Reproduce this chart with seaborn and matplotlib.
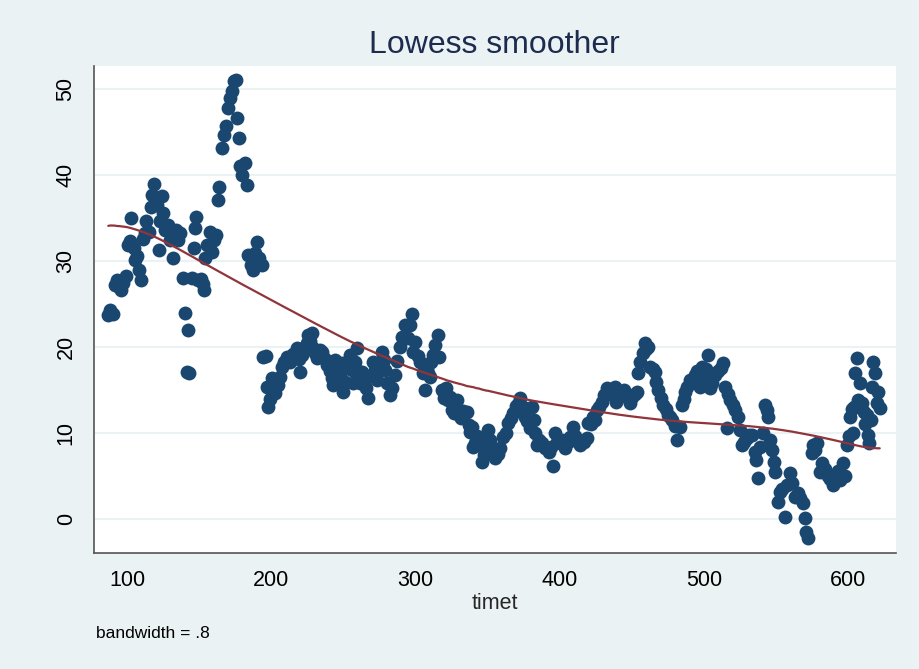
import numpy as np
import pandas as pd
import matplotlib
matplotlib.use("Agg")
import matplotlib.pyplot as plt
import seaborn as sns

# ---- data ----
timet = [
    87, 88.5, 90, 91.5, 93, 94.5, 96, 97.5, 99, 100.5, 102, 103, 104.5, 105.5, 107, 108.5, 110, 111,
    112.5, 113.5, 115, 116.5, 117.5, 118.7, 120, 121, 122.2, 123, 124.3, 125.2, 126.5, 128.4, 129.8,
    131.9, 134, 135.4, 136.8, 138.8, 140.2, 141.6, 142.3, 143.1, 145, 146.5, 147.2, 147.9, 149.2,
    151.3, 152.5, 153.4, 154, 155.5, 157.6, 158.9, 160.3, 161.7, 163.1, 163.8, 165.9, 167.3, 168.7,
    170, 171.4, 172.8, 174.2, 175.6, 176.3, 177.7, 178.4, 179.8, 181.8, 183.2, 184, 186, 187.4, 188.8,
    190.2, 191.5, 193.6, 194.3, 196.5, 197, 197.8, 199.5, 200.6, 202.6, 204.7, 206, 207.5, 209, 211,
    213, 215, 217.9, 219, 220, 221.5, 223.5, 224.8, 225.5, 227, 228.3, 229, 230.4, 231.8, 233.5,
    235.2, 237, 238.7, 240.5, 242.2, 242.9, 244.2, 246, 247.5, 249.1, 249.8, 251.5, 253, 254.6, 256,
    256.7, 258, 259.5, 260.5, 261.6, 263, 264.5, 266, 267.1, 268.5, 270.6, 272, 273.4, 275, 276.8,
    278, 278.9, 280.5, 282.4, 284, 285.9, 287.5, 289.3, 291, 292.8, 294.9, 296.2, 297.6, 298.3, 300,
    301.5, 303.2, 305, 306.7, 308, 308.7, 310, 311, 312.2, 313.6, 315.7, 316.5, 318.4, 319.5, 321,
    322.5, 324, 325.5, 327, 328.8, 330, 331.5, 333, 335.8, 337, 338, 339, 340, 341, 342.5, 344, 346,
    347.5, 349, 350, 351.5, 353, 355, 357, 358.7, 360.7, 362.5, 364.5, 366, 367.7, 369.5, 371, 372.5,
    374.6, 376, 377.5, 379.5, 381, 382, 383, 384.3, 386, 388, 390, 392.5, 394, 395.4, 396.8, 398.5,
    400.5, 402, 403.7, 405.5, 407, 409.3, 411, 412.5, 414, 415.5, 417, 419, 419.7, 421.5, 423, 424.5,
    426, 427.5, 429.4, 431, 432.9, 434.5, 436.5, 438.4, 439, 441, 443.3, 445, 447, 448.8, 450.5, 452,
    453.7, 454.4, 456, 457.8, 459.2, 460, 461.3, 462.5, 464.5, 466, 467, 468.5, 470, 471.7, 473.5,
    475, 476.5, 478, 480, 481.4, 483.5, 484.9, 486, 487, 488.5, 490.4, 492, 493.9, 495.5, 497.4,
    498.7, 500, 501.5, 502.9, 504.3, 506, 508, 510, 512, 513.6, 515, 516.1, 517, 518.5, 520, 521.9,
    523.5, 525, 526.5, 528, 530, 531.5, 533.4, 535.5, 536.2, 537.6, 539, 541, 542.4, 543.5, 544.5,
    546, 547.3, 548.5, 549.4, 551.5, 552.8, 554.5, 556.3, 558, 559.8, 561.5, 563.2, 565, 567, 568.8,
    570.2, 571.2, 572, 575, 575.7, 577, 578.5, 580.6, 582, 584, 586, 587.8, 589.6, 591.5, 593, 594.5,
    596.5, 598, 599.3, 600.5, 601.4, 602.5, 603.5, 604, 604.9, 606.2, 606.9, 608.3, 609.5, 611, 612,
    613.2, 614, 614.8, 616, 616.6, 617.3, 618.7, 620, 621, 622,
]
value = [
    23.7, 24.3, 23.8, 27.2, 27.8, 27.0, 26.6, 27.4, 28.2, 31.9, 32.3, 35.0, 31.5, 30.1, 30.6, 29.0, 27.8, 32.5,
    33.2, 34.6, 33.4, 36.3, 37.7, 39.0, 37.4, 36.5, 31.3, 34.6, 37.6, 35.6, 33.6, 34.2, 32.4,
    30.3, 33.6, 32.4, 33.3, 28.0, 24.0, 17.1, 22.0, 17.0, 28.0, 31.5, 33.8, 35.1, 27.8,
    27.9, 27.3, 26.6, 30.3, 31.9, 33.4, 31.0, 32.4, 33.0, 37.1, 38.6, 43.1, 44.6, 45.7,
    47.8, 48.9, 49.8, 50.9, 51.0, 46.6, 44.3, 41.0, 40.0, 41.4, 38.8, 30.7, 29.5, 29.0, 30.9,
    32.2, 30.3, 29.5, 18.8, 18.9, 15.3, 13.0, 14.0, 16.4, 14.7, 15.6, 16.5, 17.7, 18.2, 18.8,
    18.3, 19.2, 19.9, 18.6, 17.1, 19.1, 20.0, 20.5, 21.4, 20.7, 21.6, 19.9, 19.3, 18.7, 19.6,
    19.4, 18.6, 17.9, 17.2, 16.4, 15.6, 18.5, 17.5, 16.8, 18.1, 14.8, 15.9, 17.6, 19.1, 17.3,
    15.8, 18.3, 19.9, 17.2, 15.8, 17.1, 16.0, 15.2, 14.1, 16.6, 18.3, 17.3, 16.2, 18.0, 19.4,
    18.5, 17.3, 15.8, 14.4, 15.2, 16.7, 18.4, 20.0, 21.2, 22.6, 21.0, 22.5, 23.8, 19.4, 20.6,
    19.0, 18.3, 17.0, 15.0, 17.6, 17.0, 16.5, 18.2, 19.1, 20.2, 21.4, 18.8, 15.0, 14.1, 15.2,
    13.8, 14.2, 12.7, 12.3, 13.8, 12.1, 11.7, 12.6, 12.4, 10.9, 10.1, 10.7, 8.4, 8.8, 9.6, 8.6, 6.6,
    7.5, 9.0, 10.3, 9.2, 7.8, 7.1, 7.6, 8.3, 9.5, 10.0, 11.2, 11.8, 12.3, 13.1, 13.4, 14.1,
    13.0, 11.9, 11.4, 10.6, 13.0, 11.5, 10.0, 8.6, 9.2, 8.8, 8.3, 7.8, 8.4, 6.2, 10.0, 9.0,
    8.8, 9.2, 8.3, 8.9, 9.5, 10.7, 9.6, 8.9, 8.6, 9.1, 9.0, 9.4, 11.2, 11.0, 11.9, 11.5,
    12.7, 13.0, 13.6, 14.4, 15.2, 14.5, 14.9, 15.4, 13.6, 14.5, 14.8, 15.0, 14.2, 13.5, 14.2, 14.5,
    14.8, 17.0, 18.2, 19.3, 20.5, 19.8, 20.0, 17.7, 17.5, 17.1, 15.9, 15.0, 14.1, 13.3, 12.8,
    12.1, 11.9, 11.5, 10.8, 9.2, 10.7, 13.3, 14.0, 14.8, 15.4, 16.2, 16.0, 16.7, 17.2, 15.4,
    17.7, 16.0, 17.5, 19.1, 15.2, 15.8, 16.7, 17.2, 17.6, 18.1, 15.4, 10.6, 14.5, 13.8, 13.2, 12.7,
    11.9, 10.3, 8.6, 9.0, 9.4, 9.8, 9.8, 7.8, 6.9, 4.8, 8.4, 10.0, 13.3, 12.7, 11.9,
    9.2, 8.0, 6.6, 5.5, 2.0, 3.1, 3.5, 0.2, 4.0, 5.3, 4.2, 2.6, 3.0, 2.4, 1.9,
    0.1, -1.5, -2.2, 7.7, 8.6, 8.0, 8.8, 5.5, 6.5, 5.8, 5.0, 4.6, 4.0, 5.0, 5.6, 4.5,
    6.5, 5.0, 8.6, 9.7, 11.9, 12.8, 10.0, 13.0, 17.0, 18.7, 13.8, 15.8, 13.5, 12.4, 11.0,
    12.1, 9.8, 8.8, 11.5, 15.4, 18.3, 17.0, 13.5, 14.8, 12.9,
]
x_ticks = [100, 200, 300, 400, 500, 600]
y_ticks = [0, 10, 20, 30, 40, 50]
bandwidth = 0.8

df = pd.DataFrame({"timet": timet, "value": value}).sort_values("timet").reset_index(drop=True)


# ---- lowess as in Stata: symmetric index window, tricube weights, local linear ----
def lowess_fit(x, y, frac):
    x = np.asarray(x, float)
    y = np.asarray(y, float)
    n = len(x)
    k = int(np.floor((frac * n - 0.5) / 2))
    out = np.empty(n)
    for i in range(n):
        lo = max(0, i - k)
        hi = min(n - 1, i + k)
        xs = x[lo:hi + 1]
        ys = y[lo:hi + 1]
        delta = 1.0001 * max(x[hi] - x[i], x[i] - x[lo])
        d = np.abs(xs - x[i]) / delta
        w = np.clip(1 - d ** 3, 0, None) ** 3
        sw = np.sqrt(w)
        X = np.column_stack([np.ones(len(xs)), xs - x[i]])
        beta = np.linalg.lstsq(X * sw[:, None], ys * sw, rcond=None)[0]
        out[i] = beta[0]
    return out


df["smooth"] = lowess_fit(df["timet"], df["value"], bandwidth)

# ---- style ----
bg = "#EAF2F3"
sns.set_style("white")
plt.rcParams["font.family"] = ["Liberation Sans", "DejaVu Sans"]

fig = plt.figure(figsize=(9.2, 6.69), dpi=100, facecolor=bg)
ax = fig.add_axes([94 / 920, 1 - 553 / 669, (896 - 94) / 920, (553 - 66) / 669])
ax.set_facecolor("white")

sns.scatterplot(data=df, x="timet", y="value", ax=ax, color="#1A476F", s=100,
                linewidth=0, alpha=1, zorder=3, legend=False)
sns.lineplot(data=df, x="timet", y="smooth", ax=ax, color="#90353B", lw=1.6,
             estimator=None, sort=True, zorder=4, legend=False)

ax.set_xlim(77.1, 633.3)
ax.set_ylim(-3.95, 52.67)
ax.set_xticks(x_ticks)
ax.set_yticks(y_ticks)
ax.set_xticklabels([str(v) for v in x_ticks], fontsize=15.5)
ax.set_yticklabels([str(v) for v in y_ticks], fontsize=15.5, rotation=90, va="center")
ax.yaxis.grid(True, color=bg, lw=1.5, zorder=0)
ax.xaxis.grid(False)
ax.set_axisbelow(True)

for s in ["top", "right"]:
    ax.spines[s].set_visible(False)
for s in ["left", "bottom"]:
    ax.spines[s].set_color("#555555")
    ax.spines[s].set_linewidth(1.2)
ax.tick_params(axis="both", direction="out", length=6.5, width=1, color="#333333",
               labelcolor="black", pad=6)

ax.set_xlabel("timet", fontsize=15.5, labelpad=1)
ax.set_ylabel("")

fig.text(494 / 920, 1 - 45 / 669, "Lowess smoother", fontsize=23, color="#1C2B4E",
         ha="center", va="center")
fig.text(96 / 920, 1 - 634 / 669, "bandwidth = .8", fontsize=12.5, color="black",
         ha="left", va="center")

fig.savefig("out.png", dpi=100, facecolor=bg)
